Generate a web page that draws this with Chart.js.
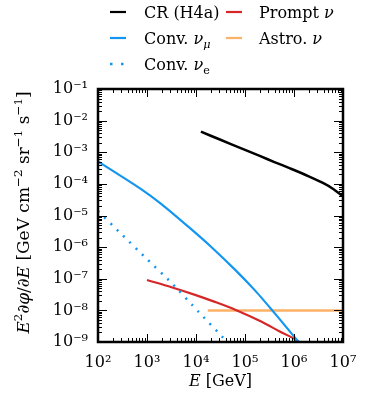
<!DOCTYPE html>
<html>
<head>
<meta charset="utf-8">
<script src="https://cdn.jsdelivr.net/npm/chart.js@4"></script>
<style>
  body { margin: 0; background: #fff; }
  canvas { display: block; }
</style>
</head>
<body>
<canvas id="flux" width="371" height="405"></canvas>
<script>
// energies in GeV, fluxes in GeV cm^-2 sr^-1 s^-1
const crE     = [1.26e4, 3.16e4, 7.94e4, 2.0e5, 3.98e5, 8.32e5, 2.0e6, 3.98e6, 6.31e6, 1.0e7];
const crFlux  = [4.47e-3, 2.48e-3, 1.38e-3, 7.67e-4, 4.90e-4, 3.09e-4, 1.74e-4, 1.05e-4, 6.92e-5, 4.07e-5];

const numuE    = [100, 720, 2.0e3, 7.55e3, 2.0e4, 6.31e4, 1.58e5, 3.51e5, 6.31e5, 1.32e6];
const numuFlux = [5.13e-4, 7.24e-5, 2.26e-5, 3.98e-6, 1.05e-6, 1.91e-7, 4.37e-8, 1.05e-8, 3.55e-9, 8.9e-10];

const nueE    = [100, 316, 1000, 3162, 1.12e4, 3.98e4];
const nueFlux = [1.38e-5, 2.40e-6, 4.17e-7, 7.41e-8, 9.12e-9, 1.15e-9];

const promptE    = [1000, 3162, 9550, 2.51e4, 6.31e4, 2.19e5, 5.01e5, 1.05e6, 1.38e6];
const promptFlux = [9.12e-8, 5.37e-8, 3.09e-8, 1.82e-8, 1.05e-8, 4.37e-9, 2.19e-9, 1.23e-9, 9.5e-10];

const astroE    = [1.74e4, 1.0e7];
const astroFlux = [1.0e-8, 1.0e-8];

const xDecades = [1e2, 1e3, 1e4, 1e5, 1e6, 1e7];
const yDecades = [1e-9, 1e-8, 1e-7, 1e-6, 1e-5, 1e-4, 1e-3, 1e-2, 1e-1];

const BLACK = '#000000', BLUE = '#1496f0', RED = '#d62728', ORANGE = '#fdb167';
const FONT = '"DejaVu Serif", serif';

const pts = (xs, ys) => xs.map((x, i) => ({ x: x, y: ys[i] }));

const SUP = { '-': '⁻', '0': '⁰', '1': '¹', '2': '²', '3': '³', '4': '⁴', '5': '⁵', '6': '⁶', '7': '⁷', '8': '⁸', '9': '⁹' };
const powLabel = v => '10' + String(Math.round(Math.log10(v))).split('').map(c => SUP[c]).join('');

// mixed italic / sub / sup text on the canvas
function segFont(s, size) {
  const sz = (s.sup || s.sub) ? size * 0.7 : size;
  return (s.it ? 'italic ' : '') + sz + 'px ' + FONT;
}
function richWidth(ctx, segs, size) {
  let w = 0;
  segs.forEach(s => { ctx.font = segFont(s, size); w += ctx.measureText(s.t).width; });
  return w;
}
function drawRich(ctx, segs, x, y, size) {
  ctx.textAlign = 'left';
  ctx.textBaseline = 'alphabetic';
  segs.forEach(s => {
    ctx.font = segFont(s, size);
    const dy = s.sup ? -size * 0.42 : s.sub ? size * 0.25 : 0;
    ctx.fillText(s.t, x, y + dy);
    x += ctx.measureText(s.t).width;
  });
}

const yTitle = [
  { t: 'E', it: true }, { t: '2', sup: true }, { t: '∂', it: true }, { t: 'φ', it: true },
  { t: '/' }, { t: '∂', it: true }, { t: 'E', it: true }, { t: ' [GeV cm' }, { t: '−2', sup: true },
  { t: ' sr' }, { t: '−1', sup: true }, { t: ' s' }, { t: '−1', sup: true }, { t: ']' }
];
const xTitle = [{ t: 'E', it: true }, { t: ' [GeV]' }];

const legendItems = [
  { col: 0, row: 0, color: BLACK, dash: null, text: [{ t: 'CR (H4a)' }] },
  { col: 1, row: 0, color: RED, dash: null, text: [{ t: 'Prompt ' }, { t: 'ν', it: true }] },
  { col: 0, row: 1, color: BLUE, dash: null, text: [{ t: 'Conv. ' }, { t: 'ν', it: true }, { t: 'μ', it: true, sub: true }] },
  { col: 1, row: 1, color: ORANGE, dash: null, text: [{ t: 'Astro. ' }, { t: 'ν', it: true }] },
  { col: 0, row: 2, color: BLUE, dash: [2.5, 8.5], text: [{ t: 'Conv. ' }, { t: 'ν', it: true }, { t: 'e', sub: true }] }
];

const decorations = {
  id: 'decorations',
  afterDraw(chart) {
    const ctx = chart.ctx, a = chart.chartArea;
    const sx = chart.scales.x, sy = chart.scales.y;
    ctx.save();
    ctx.strokeStyle = BLACK;
    ctx.fillStyle = BLACK;

    // inward ticks on all four sides
    ctx.lineWidth = 1;
    ctx.beginPath();
    for (let e = 2; e <= 7; e++) {
      for (let m = 1; m <= 9; m++) {
        const v = m * Math.pow(10, e);
        if (v > 1e7) break;
        const px = Math.round(sx.getPixelForValue(v)) + 0.5;
        const len = m === 1 ? 8 : 4;
        ctx.moveTo(px, a.bottom); ctx.lineTo(px, a.bottom - len);
        ctx.moveTo(px, a.top); ctx.lineTo(px, a.top + len);
      }
    }
    for (let e = -9; e <= -1; e++) {
      for (let m = 1; m <= 9; m++) {
        const v = m * Math.pow(10, e);
        if (v > 0.1 + 1e-12) break;
        const py = Math.round(sy.getPixelForValue(v)) + 0.5;
        const len = m === 1 ? 9 : 4;
        ctx.moveTo(a.left, py); ctx.lineTo(a.left + len, py);
        ctx.moveTo(a.right, py); ctx.lineTo(a.right - len, py);
      }
    }
    ctx.stroke();

    // frame
    ctx.lineWidth = 2.5;
    ctx.strokeRect(a.left, a.top, a.right - a.left, a.bottom - a.top);

    // axis titles
    const xs = 16;
    drawRich(ctx, xTitle, (a.left + a.right) / 2 - richWidth(ctx, xTitle, xs) / 2, 386, xs);
    const ys = 17;
    ctx.translate(29, (a.top + a.bottom) / 2 - 3);
    ctx.rotate(-Math.PI / 2);
    drawRich(ctx, yTitle, -richWidth(ctx, yTitle, ys) / 2, 0, ys);
    ctx.setTransform(1, 0, 0, 1, 0, 0);

    // legend
    const colX = [110, 226], textX = [144, 259], rowY = [12, 38, 64];
    legendItems.forEach(it => {
      const x0 = colX[it.col], y0 = rowY[it.row];
      ctx.strokeStyle = it.color;
      ctx.lineWidth = it.dash ? 2.5 : 2.2;
      ctx.setLineDash(it.dash || []);
      ctx.beginPath();
      ctx.moveTo(x0, y0); ctx.lineTo(x0 + 16, y0);
      ctx.stroke();
      ctx.setLineDash([]);
      ctx.fillStyle = BLACK;
      drawRich(ctx, it.text, textX[it.col], y0 + 6, 16);
    });
    ctx.restore();
  }
};

new Chart(document.getElementById('flux'), {
  type: 'line',
  data: {
    datasets: [
      { label: 'CR (H4a)', data: pts(crE, crFlux), borderColor: BLACK, borderWidth: 2.5, tension: 0.3 },
      { label: 'Conv. νμ', data: pts(numuE, numuFlux), borderColor: BLUE, borderWidth: 2.2, tension: 0.15 },
      { label: 'Conv. νe', data: pts(nueE, nueFlux), borderColor: BLUE, borderWidth: 2.5, borderDash: [2, 6.8], tension: 0.2 },
      { label: 'Prompt ν', data: pts(promptE, promptFlux), borderColor: RED, borderWidth: 2.2, tension: 0.3 },
      { label: 'Astro. ν', data: pts(astroE, astroFlux), borderColor: ORANGE, borderWidth: 2.5 }
    ]
  },
  options: {
    responsive: false,
    animation: false,
    layout: { padding: { top: 89, right: 28, left: 0, bottom: 0 } },
    elements: {
      point: { radius: 0 },
      line: { tension: 0, fill: false }
    },
    plugins: { legend: { display: false }, tooltip: { enabled: false } },
    scales: {
      x: {
        type: 'logarithmic', min: 100, max: 1e7,
        grid: { display: false, drawTicks: false },
        border: { display: false },
        ticks: { color: BLACK, font: { family: FONT, size: 16 }, padding: 11, maxRotation: 0, autoSkip: false, callback: v => powLabel(v) },
        afterBuildTicks: s => { s.ticks = xDecades.map(v => ({ value: v })); },
        afterFit: s => { s.height = 63; }
      },
      y: {
        type: 'logarithmic', min: 1e-9, max: 1e-1,
        grid: { display: false, drawTicks: false },
        border: { display: false },
        ticks: { color: BLACK, font: { family: FONT, size: 16 }, padding: 10, autoSkip: false, callback: v => powLabel(v) },
        afterBuildTicks: s => { s.ticks = yDecades.map(v => ({ value: v })); },
        afterFit: s => { s.width = 98; }
      }
    }
  },
  plugins: [decorations]
});
</script>
</body>
</html>
